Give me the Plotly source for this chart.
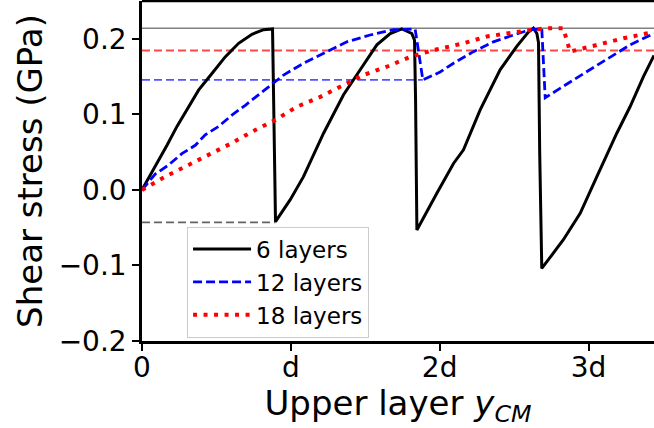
import plotly.graph_objects as go

# ---- data (x in units of d, stress in GPa) ----
x6 = [0.0, 0.089, 0.168, 0.235, 0.313, 0.380, 0.470, 0.559, 0.649, 0.739, 0.817, 0.877, 0.882, 0.897,
      0.996, 1.085, 1.220, 1.354, 1.466, 1.578, 1.668, 1.746, 1.813, 1.831, 1.838, 1.847,
      1.981, 2.093, 2.160, 2.272, 2.406, 2.518, 2.596, 2.630, 2.653, 2.664, 2.672, 2.686,
      2.831, 2.944, 3.056, 3.190, 3.279, 3.369, 3.44]
s6 = [0.0, 0.031, 0.059, 0.084, 0.110, 0.132, 0.154, 0.176, 0.194, 0.206, 0.212, 0.213, 0.150, -0.042,
      -0.013, 0.0175, 0.075, 0.126, 0.159, 0.192, 0.207, 0.213, 0.207, 0.198, 0.120, -0.053,
      -0.0045, 0.035, 0.053, 0.106, 0.159, 0.190, 0.209, 0.214, 0.207, 0.195, 0.050, -0.104,
      -0.066, -0.031, 0.0175, 0.075, 0.110, 0.150, 0.178]

x12 = [0.0, 0.089, 0.179, 0.268, 0.358, 0.425, 0.515, 0.604, 0.694, 0.783, 0.873, 0.951, 1.085,
       1.242, 1.377, 1.533, 1.690, 1.835, 1.887, 2.003, 2.093, 2.227, 2.361, 2.496, 2.608,
       2.686, 2.709, 2.899, 3.100, 3.279, 3.44]
s12 = [0.0, 0.021, 0.033, 0.048, 0.059, 0.073, 0.084, 0.099, 0.112, 0.126, 0.139, 0.152, 0.1676,
       0.183, 0.196, 0.205, 0.212, 0.213, 0.1455, 0.156, 0.1676, 0.183, 0.196, 0.205, 0.212,
       0.213, 0.122, 0.1455, 0.170, 0.192, 0.207]

x18 = [0.0, 0.156, 0.313, 0.447, 0.604, 0.739, 0.895, 1.041, 1.197, 1.332, 1.488, 1.645, 1.802,
       1.958, 2.003, 2.160, 2.317, 2.451, 2.541, 2.641, 2.740, 2.831, 2.876, 3.056, 3.234, 3.44]
s18 = [0.0, 0.0175, 0.033, 0.046, 0.062, 0.077, 0.0925, 0.110, 0.123, 0.1366, 0.152, 0.163, 0.176,
       0.185, 0.187, 0.194, 0.203, 0.207, 0.210, 0.2125, 0.214, 0.214, 0.183, 0.192, 0.2006, 0.209]

# reference levels: value, x extent end
level_vals = [0.214, 0.1845, 0.1455, -0.043]
level_ends = [3.44, 3.44, 1.887, 0.897]
level_colors = ["rgba(128,128,128,1)", "rgba(255,40,40,0.85)", "rgba(40,40,255,0.8)", "rgba(100,100,100,1)"]
level_dash = ["solid", "8px,4px", "8px,4px", "8px,4px"]
level_width = [1.5, 1.8, 1.8, 1.8]

series_names = ["6 layers", "12 layers", "18 layers"]

x_tickvals = [0, 1, 2, 3]
x_ticktext = ["0", "d", "2d", "3d"]
y_tickvals = [-0.2, -0.1, 0.0, 0.1, 0.2]
y_ticktext = ["\u22120.2", "\u22120.1", "0.0", "0.1", "0.2"]

fig = go.Figure()

for v, e, c, d, w in zip(level_vals, level_ends, level_colors, level_dash, level_width):
    fig.add_trace(go.Scatter(x=[0, e], y=[v, v], mode="lines", showlegend=False,
                             hoverinfo="skip", line=dict(color=c, dash=d, width=w)))

fig.add_trace(go.Scatter(x=x6, y=s6, mode="lines", name=series_names[0],
                         line=dict(color="black", width=3)))
fig.add_trace(go.Scatter(x=x12, y=s12, mode="lines", name=series_names[1],
                         line=dict(color="#0000ff", width=2.8, dash="9px,4px")))
fig.add_trace(go.Scatter(x=x18, y=s18, mode="lines", name=series_names[2],
                         line=dict(color="#ff0000", width=4, dash="4px,6.5px")))

fig.add_shape(type="line", xref="paper", yref="paper", x0=0, x1=1, y0=1, y1=1,
              line=dict(color="black", width=2.5))

font_family = "DejaVu Sans"
fig.update_layout(
    width=654, height=428,
    margin=dict(l=142, r=0, t=1, b=87),
    plot_bgcolor="white", paper_bgcolor="white",
    font=dict(family=font_family, color="black"),
    showlegend=True,
    legend=dict(x=0.088, y=0.01, xanchor="left", yanchor="bottom",
                bgcolor="rgba(255,255,255,0.85)", bordercolor="#cccccc", borderwidth=1,
                font=dict(size=23, family=font_family), tracegroupgap=0, itemwidth=58),
    xaxis=dict(range=[0, 3.44], tickvals=x_tickvals, ticktext=x_ticktext, automargin=False,
               ticks="outside", ticklen=7, tickwidth=1.5, tickcolor="black",
               showline=True, linewidth=2.5, linecolor="black",
               showgrid=False, zeroline=False, ticklabelstandoff=-7,
               tickfont=dict(size=28),
               title=dict(text="Upper layer <i>y</i><sub><i>CM</i></sub>", font=dict(size=34), standoff=2)),
    yaxis=dict(range=[-0.2, 0.25], tickvals=y_tickvals, ticktext=y_ticktext, automargin=False,
               ticks="outside", ticklen=7, tickwidth=1.5, tickcolor="black",
               showline=True, linewidth=2.5, linecolor="black",
               showgrid=False, zeroline=False,
               tickfont=dict(size=28),
               title=dict(text="Shear stress (GPa)", font=dict(size=34), standoff=6)),
)

fig.write_html("out.html", config={"displayModeBar": False},
               post_script="document.body.style.margin='0';document.body.style.overflow='hidden';")
